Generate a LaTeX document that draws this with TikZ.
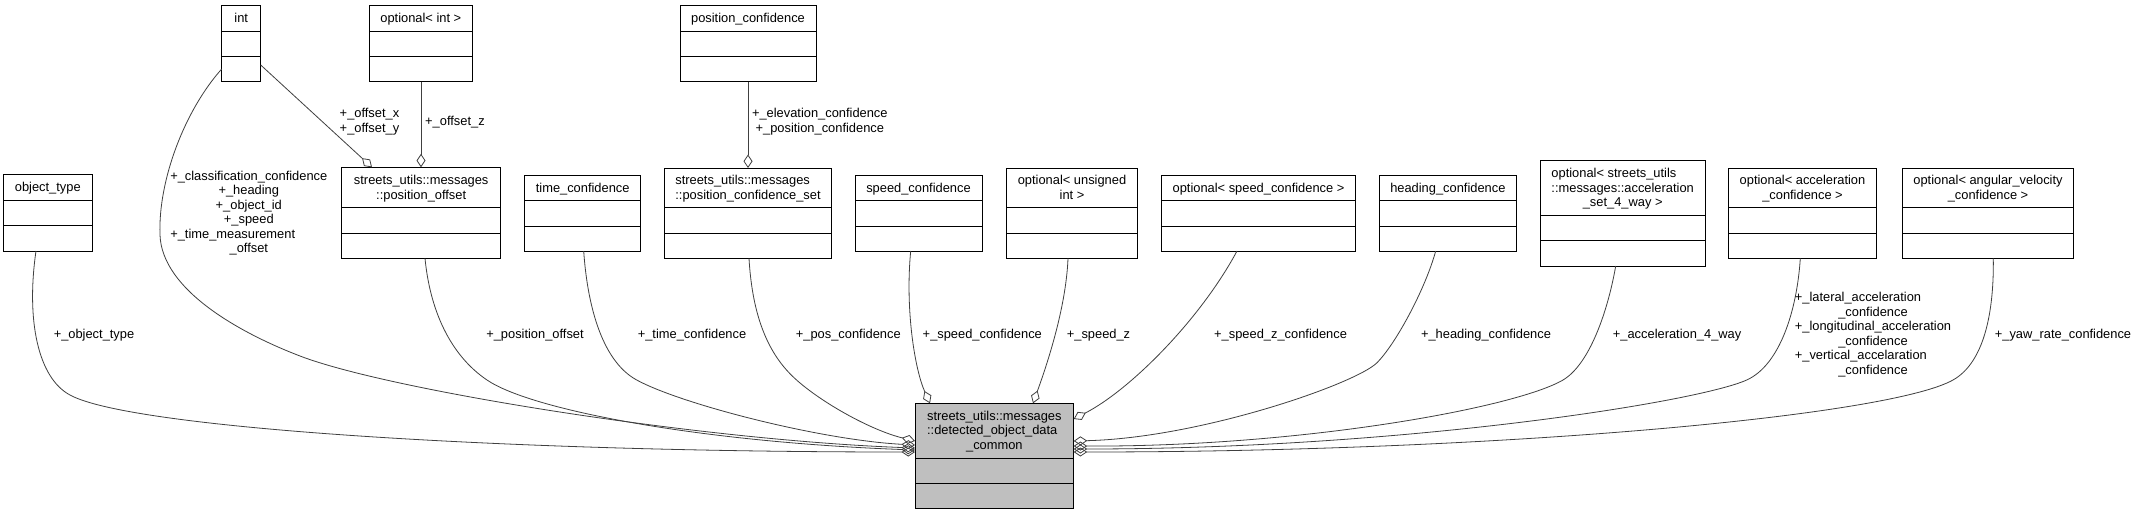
\documentclass[tikz,border=0pt]{standalone}
\usepackage{fontspec}
\setmainfont{Liberation Sans}
\usetikzlibrary{arrows.meta,calc}
\definecolor{cfill}{HTML}{BFBFBF}
\newcommand\fsz{\fontsize{12.87}{14.5}\selectfont}
\newcommand\LeftLine[1]{\multicolumn{1}{@{}l@{}}{#1}}
\tikzset{
 clsbox/.style={draw=black,line width=1pt,inner sep=0pt,outer sep=0pt},
 clsline/.style={draw=black,line width=1pt},
 hdr/.style={inner sep=0pt,font=\fsz,yshift=-1.4pt},
 elabel/.style={inner sep=0pt,font=\fsz,yshift=-1.4pt},
 assoc/.style={draw=black!75,line width=0.8pt,-{Diamond[open,length=13.5pt,width=9pt]}},
}
% fill, name, x1, y1, x2, y2, divider1, divider2, text
\newcommand\ClassBox[9][white]{%
 \node[clsbox,fill=#1,minimum width={(#5-#3)*1pt},minimum height={(#6-#4)*1pt}] (#2) at ({(#3+#5)/2},{(#4+#6)/2}) {};
 \node[hdr] (#2-t) at ({(#3+#5)/2},{(#4+#7)/2}) {\begin{tabular}{@{}c@{}}#9\end{tabular}};
 \draw[clsline] (#3,#7) -- (#5,#7);
 \draw[clsline] (#3,#8) -- (#5,#8);
}
\begin{document}
\begin{tikzpicture}[x=1pt,y=-1pt]
\fill[white] (0,0) rectangle (2137,515);
\useasboundingbox (0,0) rectangle (2137,515);

% top row
\ClassBox{int}{221.7}{5}{260.7}{81.7}{31.7}{56.7}{int}
\ClassBox{optint}{369}{5}{472.7}{81.7}{31.7}{56.7}{optional< int >}
\ClassBox{pc}{680}{5}{816}{81.7}{31.7}{56.7}{position\_confidence}

% middle row
\ClassBox{ot}{3.3}{174.3}{92.3}{251}{200.7}{225.7}{object\_type}
\ClassBox{po}{341.7}{167.3}{500.7}{258.3}{207.7}{233}{streets\_utils::messages\\ ::position\_offset}
\ClassBox{tc}{524.7}{175}{640.7}{251}{200.7}{226}{time\_confidence}
\ClassBox{pcs}{664.7}{168}{831.3}{258.3}{207.7}{233}{\LeftLine{streets\_utils::messages}\\ ::position\_confidence\_set}
\ClassBox{sc}{855}{175}{982}{251}{200.7}{226}{speed\_confidence}
\ClassBox{ou}{1006.7}{168}{1137.3}{258.3}{207.7}{233}{optional< unsigned\\ int >}
\ClassBox{osc}{1161.7}{175}{1355.3}{251}{200.7}{226}{optional< speed\_confidence >}
\ClassBox{hc}{1379.7}{175}{1516}{251}{200.7}{226}{heading\_confidence}
\ClassBox{oas}{1540.3}{160.7}{1705}{266}{215.3}{240.7}{\LeftLine{optional< streets\_utils}\\ \LeftLine{::messages::acceleration}\\ \_set\_4\_way >}
\ClassBox{oac}{1728.3}{168}{1876.7}{258.3}{207.7}{233}{optional< acceleration\\ \_confidence >}
\ClassBox{oav}{1902.7}{168}{2073.3}{258.3}{207.7}{233}{optional< angular\_velocity\\ \_confidence >}

% central class
\ClassBox[cfill]{C}{915}{403.3}{1073.7}{508.7}{458}{483}{\LeftLine{streets\_utils::messages}\\ \LeftLine{::detected\_object\_data}\\ \_common}

% connectors of the upper level
\draw[assoc] ($(int.north east)+(0,60)$) -- ($(po.north west)+(30.3,0)$);
\draw[assoc] ($(optint.south west)+(52,0)$) -- ($(po.north west)+(79.3,0)$);
\draw[assoc] ($(pc.south west)+(68,0)$) -- ($(pcs.north west)+(83.3,0)$);

% connectors into the central class, left side
\draw[assoc] ($(ot.south west)+(32.7,0)$) .. controls (26,320) and (38,378) .. (70,395)
   .. controls (130,428) and (500,452) .. ($(C.north west)+(0,48.7)$);
\draw[assoc] ($(int.north west)+(0,64)$) .. controls (185,110) and (158,180) .. (160,235)
   .. controls (162,290) and (240,333) .. (300,356)
   .. controls (390,390.5) and (700,440) .. ($(C.north west)+(0,44.7)$);
\draw[assoc] ($(po.south west)+(83.3,0)$) .. controls (430,310) and (450,355) .. (487,380)
   .. controls (531,410) and (700,442) .. ($(C.north west)+(0,46.7)$);
\draw[assoc] ($(tc.south west)+(59,0)$) .. controls (587,300) and (600,360) .. (636.7,380)
   .. controls (680.7,404) and (820,440) .. ($(C.north west)+(0,41.7)$);
\draw[assoc] ($(pcs.south west)+(84.3,0)$) .. controls (752,310) and (765,350) .. (793,376.7)
   .. controls (818,400.7) and (870,430) .. ($(C.north west)+(0,37.7)$);

% top
\draw[assoc] ($(sc.south west)+(55.7,0)$) .. controls (905,310) and (915,370) .. ($(C.north west)+(15,0)$);
\draw[assoc] ($(ou.south west)+(61.3,0)$) .. controls (1066,310) and (1045,370) .. ($(C.north west)+(118,0)$);

% right side
\draw[assoc] ($(osc.south west)+(75.3,0)$) .. controls (1200,320) and (1130,390) .. ($(C.north east)+(0,15.7)$);
\draw[assoc] ($(hc.south west)+(56,0)$) .. controls (1425,290) and (1395,345) .. (1376.7,363)
   .. controls (1355,384) and (1200,438) .. ($(C.north east)+(0,37.7)$);
\draw[assoc] ($(oas.south west)+(75.4,0)$) .. controls (1608,310) and (1590,364) .. (1563,380)
   .. controls (1515,408) and (1300,447) .. ($(C.north east)+(0,42.7)$);
\draw[assoc] ($(oac.south west)+(72,0)$) .. controls (1797,310) and (1780,365) .. (1746.7,380)
   .. controls (1696.7,402.5) and (1400,449) .. ($(C.north east)+(0,45.7)$);
\draw[assoc] ($(oav.south west)+(90.6,0)$) .. controls (1994,310) and (1985,362) .. (1953,380)
   .. controls (1889,416) and (1500,452) .. ($(C.north east)+(0,48.7)$);

% labels
\node[elabel] (l-offxy) at (369.5,120.5) {\begin{tabular}{@{}c@{}}+\_offset\_x\\ +\_offset\_y\end{tabular}};
\node[elabel,anchor=west] (l-offz) at (425,120.7) {\begin{tabular}{@{}c@{}}+\_offset\_z\end{tabular}};
\node[elabel] (l-posconf) at (819.8,120.5) {\begin{tabular}{@{}c@{}}+\_elevation\_confidence\\ +\_position\_confidence\end{tabular}};
\node[elabel] (l-ot) at (94,333.7) {\begin{tabular}{@{}c@{}}+\_object\_type\end{tabular}};
\node[elabel] (l-int) at (248.8,212.4) {\begin{tabular}{@{}c@{}}\LeftLine{+\_classification\_confidence}\\ +\_heading\\ +\_object\_id\\ +\_speed\\ \LeftLine{+\_time\_measurement}\\ \_offset\end{tabular}};
\node[elabel] (l-po) at (535,333.7) {\begin{tabular}{@{}c@{}}+\_position\_offset\end{tabular}};
\node[elabel] (l-tc) at (692,333.7) {\begin{tabular}{@{}c@{}}+\_time\_confidence\end{tabular}};
\node[elabel,anchor=west] (l-pcs) at (795.7,333.7) {\begin{tabular}{@{}c@{}}+\_pos\_confidence\end{tabular}};
\node[elabel] (l-sc) at (982.3,333.7) {\begin{tabular}{@{}c@{}}+\_speed\_confidence\end{tabular}};
\node[elabel] (l-ou) at (1098.5,333.7) {\begin{tabular}{@{}c@{}}+\_speed\_z\end{tabular}};
\node[elabel,anchor=west] (l-osc) at (1214,333.7) {\begin{tabular}{@{}c@{}}+\_speed\_z\_confidence\end{tabular}};
\node[elabel] (l-hc) at (1486,333.7) {\begin{tabular}{@{}c@{}}+\_heading\_confidence\end{tabular}};
\node[elabel,anchor=west] (l-oas) at (1612.7,333.7) {\begin{tabular}{@{}c@{}}+\_acceleration\_4\_way\end{tabular}};
\node[elabel] (l-oac) at (1873,333.5) {\begin{tabular}{@{}c@{}}\LeftLine{+\_lateral\_acceleration}\\ \_confidence\\ +\_longitudinal\_acceleration\\ \_confidence\\ \LeftLine{+\_vertical\_accelaration}\\ \_confidence\end{tabular}};
\node[elabel] (l-oav) at (2063,333.7) {\begin{tabular}{@{}c@{}}+\_yaw\_rate\_confidence\end{tabular}};
\end{tikzpicture}
\end{document}
